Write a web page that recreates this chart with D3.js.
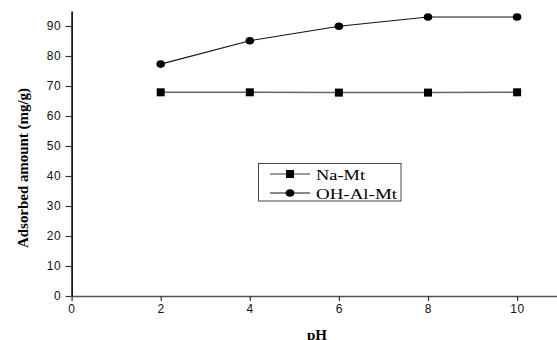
<!DOCTYPE html>
<html>
<head>
<meta charset="utf-8">
<script src="https://cdn.jsdelivr.net/npm/d3@7"></script>
<style>
  html, body { margin: 0; padding: 0; background: #fff; }
  svg { display: block; }
</style>
</head>
<body>
<svg id="chart" width="557" height="340"></svg>
<script>
// pH values and adsorbed amounts (mg/g)
const phValues = [2, 4, 6, 8, 10];
const naMt = [67.9, 67.9, 67.8, 67.8, 67.9];
const ohAlMt = [77.3, 85.1, 89.9, 93.0, 93.0];
const xTicks = [0, 2, 4, 6, 8, 10];
const yTicks = [0, 10, 20, 30, 40, 50, 60, 70, 80, 90];
const seriesNames = ["Na-Mt", "OH-Al-Mt"];

const svg = d3.select("#chart");

const x = d3.scaleLinear().domain([0, 11]).range([71.6, 71.6 + 11 * 44.55]);
const y = d3.scaleLinear().domain([0, 95]).range([296, 11]);

const tickFont = "'Liberation Sans', Arial, sans-serif";
const serif = "'Liberation Serif', 'Times New Roman', serif";

// x axis
const xAxis = svg.append("g")
  .attr("transform", `translate(0,${y(0)})`)
  .call(d3.axisBottom(x).tickValues(xTicks).tickSize(5).tickPadding(3).tickSizeOuter(0));
xAxis.select(".domain").attr("stroke", "#555").attr("stroke-width", 1.6);
xAxis.selectAll(".tick line").attr("stroke", "#333").attr("stroke-width", 1.2);
xAxis.selectAll(".tick text")
  .attr("font-family", tickFont).attr("font-size", 12).attr("fill", "#111")
  .attr("letter-spacing", 0.8);

// y axis
const yAxis = svg.append("g")
  .attr("transform", `translate(${x(0)},0)`)
  .call(d3.axisLeft(y).tickValues(yTicks).tickSize(6).tickPadding(4).tickSizeOuter(0));
yAxis.select(".domain").attr("stroke", "#000").attr("stroke-width", 1.6);
yAxis.selectAll(".tick line").attr("stroke", "#333").attr("stroke-width", 1.2);
yAxis.selectAll(".tick text")
  .attr("font-family", tickFont).attr("font-size", 12).attr("fill", "#111")
  .attr("letter-spacing", 0.8);

// axis titles
svg.append("text")
  .attr("x", 317).attr("y", 340)
  .attr("text-anchor", "middle")
  .attr("font-family", serif).attr("font-weight", "bold").attr("font-size", 15)
  .text("pH");

svg.append("text")
  .attr("transform", "translate(28,168) rotate(-90)")
  .attr("text-anchor", "middle")
  .attr("font-family", serif).attr("font-weight", "bold").attr("font-size", 14)
  .attr("textLength", 160).attr("lengthAdjust", "spacingAndGlyphs")
  .text("Adsorbed amount (mg/g)");

// series lines
const line = d3.line().x(d => x(d[0])).y(d => y(d[1]));
const naData = phValues.map((p, i) => [p, naMt[i]]);
const ohData = phValues.map((p, i) => [p, ohAlMt[i]]);

svg.append("path").datum(naData).attr("d", line)
  .attr("fill", "none").attr("stroke", "#666").attr("stroke-width", 1.5);
svg.append("path").datum(ohData).attr("d", line)
  .attr("fill", "none").attr("stroke", "#111").attr("stroke-width", 1.1);

// markers
svg.selectAll(".sq").data(naData).enter().append("rect")
  .attr("x", d => x(d[0]) - 4).attr("y", d => y(d[1]) - 4)
  .attr("width", 8).attr("height", 8).attr("fill", "#000");
svg.selectAll(".ci").data(ohData).enter().append("ellipse")
  .attr("cx", d => x(d[0])).attr("cy", d => y(d[1]))
  .attr("rx", 4.3).attr("ry", 3.8).attr("fill", "#000");

// legend
const lg = svg.append("g");
lg.append("rect").attr("x", 258.5).attr("y", 163.5).attr("width", 142.5).attr("height", 37.5)
  .attr("fill", "#fff").attr("stroke", "#444").attr("stroke-width", 1);

const rows = [
  { name: seriesNames[0], y: 174, marker: "square", stroke: "#333", len: 49 },
  { name: seriesNames[1], y: 193, marker: "circle", stroke: "#111", len: 81 }
];
rows.forEach(r => {
  lg.append("line").attr("x1", 270).attr("x2", 310).attr("y1", r.y).attr("y2", r.y)
    .attr("stroke", r.stroke).attr("stroke-width", 1.2);
  if (r.marker === "square") {
    lg.append("rect").attr("x", 286).attr("y", r.y - 4).attr("width", 8).attr("height", 8).attr("fill", "#000");
  } else {
    lg.append("ellipse").attr("cx", 290).attr("cy", r.y).attr("rx", 4.3).attr("ry", 3.8).attr("fill", "#000");
  }
  lg.append("text").attr("x", 316).attr("y", r.y + 5.5)
    .attr("font-family", serif).attr("font-size", 15).attr("fill", "#000")
    .attr("textLength", r.len).attr("lengthAdjust", "spacingAndGlyphs")
    .text(r.name);
});
</script>
</body>
</html>
